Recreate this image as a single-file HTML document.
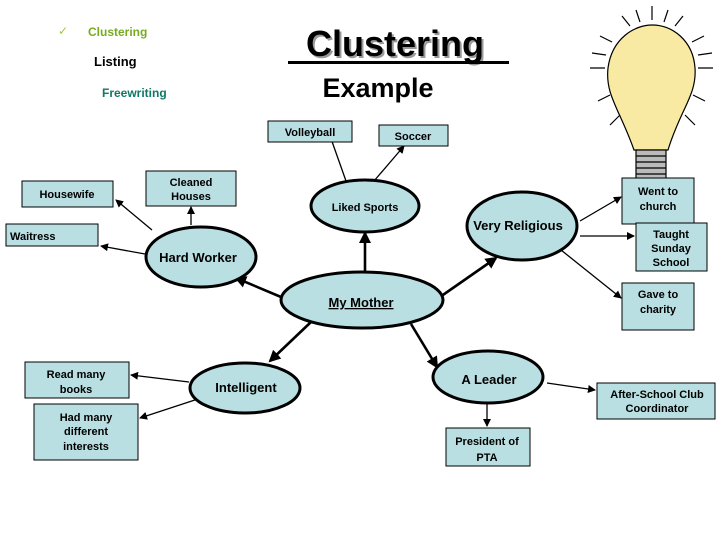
<!DOCTYPE html>
<html><head><style>
body{margin:0;background:#fff;width:728px;height:546px;overflow:hidden;font-family:"Liberation Sans",sans-serif}
</style></head><body>
<svg width="728" height="546" viewBox="0 0 728 546" xmlns="http://www.w3.org/2000/svg" font-family="Liberation Sans, sans-serif" font-weight="bold">
<defs>
<marker id="a" markerWidth="8" markerHeight="8" refX="7" refY="4" orient="auto" markerUnits="userSpaceOnUse"><path d="M0,0 L8,4 L0,8 z" fill="#000"/></marker>
<marker id="b" markerWidth="12" markerHeight="12" refX="10" refY="6" orient="auto" markerUnits="userSpaceOnUse"><path d="M0,0 L12,6 L0,12 z" fill="#000"/></marker>
</defs>
<text x="58" y="35" font-size="12" fill="#9c3" font-weight="normal">✓</text>
<text x="88" y="36" font-size="12" fill="#7a2">Clustering</text>
<text x="94" y="66" font-size="13" fill="#000">Listing</text>
<text x="102" y="97" font-size="12" fill="#176">Freewriting</text>
<text x="397" y="58" font-size="36" fill="#999" text-anchor="middle">Clustering</text>
<text x="395" y="56" font-size="36" fill="#000" text-anchor="middle">Clustering</text>
<rect x="288" y="61" width="221" height="3" fill="#000"/>
<text x="378" y="97" font-size="27" fill="#000" text-anchor="middle">Example</text>
<g stroke="#000" stroke-width="1.2">
<path d="M634,150 C620,110 605,95 608,68 C612,38 635,25 652,25 C672,25 693,40 695,68 C697,95 680,110 668,150 Z" fill="#f8eaa3"/>
<rect x="636" y="150" width="30" height="30" fill="#bbb"/>
<path d="M636,156h30M636,162h30M636,168h30M636,174h30" />
<path d="M645,180 h12 l-3,6 h-6z" fill="#555"/>
<path d="M652,20v-14M630,26l-8,-10M675,26l8,-10M612,42l-12,-6M692,42l12,-6M605,68h-15M698,68h15M610,95l-12,6M693,95l12,6M620,115l-10,10M685,115l10,10M640,22l-4,-12M664,22l4,-12M606,55l-14,-2M698,55l14,-2" fill="none"/>
</g>
<g stroke="#000" stroke-width="1.3" fill="none" marker-end="url(#a)">
<line x1="346" y1="181" x2="329" y2="133"/>
<line x1="374" y1="181" x2="404" y2="146"/>
<line x1="191" y1="225" x2="191" y2="207"/>
<line x1="152" y1="230" x2="116" y2="200"/>
<line x1="145" y1="254" x2="101" y2="246"/>
<line x1="580" y1="221" x2="621" y2="197"/>
<line x1="580" y1="236" x2="634" y2="236"/>
<line x1="561" y1="250" x2="621" y2="298"/>
<line x1="189" y1="382" x2="131" y2="375"/>
<line x1="204" y1="397" x2="140" y2="418"/>
<line x1="487" y1="403" x2="487" y2="426"/>
<line x1="547" y1="383" x2="595" y2="390"/>
</g>
<g stroke="#000" stroke-width="2.6" fill="none" marker-end="url(#b)">
<line x1="365" y1="272" x2="365" y2="233"/>
<line x1="281" y1="297" x2="236" y2="278"/>
<line x1="440" y1="297" x2="496" y2="258"/>
<line x1="311" y1="322" x2="270" y2="361"/>
<line x1="411" y1="324" x2="437" y2="367"/>
</g>
<g fill="#b9dfe2" stroke="#000" stroke-width="3">
<ellipse cx="365" cy="206" rx="54" ry="26"/>
<ellipse cx="201" cy="257" rx="55" ry="30"/>
<ellipse cx="522" cy="226" rx="55" ry="34"/>
<ellipse cx="362" cy="300" rx="81" ry="28"/>
<ellipse cx="245" cy="388" rx="55" ry="25"/>
<ellipse cx="488" cy="377" rx="55" ry="26"/>
</g>
<g fill="#b9dfe2" stroke="#000" stroke-width="1">
<rect x="268" y="121" width="84" height="21"/>
<rect x="379" y="125" width="69" height="21"/>
<rect x="146" y="171" width="90" height="35"/>
<rect x="22" y="181" width="91" height="26"/>
<rect x="6" y="224" width="92" height="22"/>
<rect x="622" y="178" width="72" height="46"/>
<rect x="636" y="223" width="71" height="48"/>
<rect x="622" y="283" width="72" height="47"/>
<rect x="25" y="362" width="104" height="36"/>
<rect x="34" y="404" width="104" height="56"/>
<rect x="446" y="428" width="84" height="38"/>
<rect x="597" y="383" width="118" height="36"/>
</g>
<g font-size="11" text-anchor="middle" fill="#000">
<text x="310" y="136">Volleyball</text>
<text x="413" y="140">Soccer</text>
<text x="191" y="186">Cleaned</text><text x="191" y="200">Houses</text>
<text x="67" y="198">Housewife</text>
<text x="10" y="240" text-anchor="start">Waitress</text>
<text x="658" y="195">Went to</text><text x="658" y="210">church</text>
<text x="671" y="238">Taught</text><text x="671" y="252">Sunday</text><text x="671" y="266">School</text>
<text x="658" y="298">Gave to</text><text x="658" y="313">charity</text>
<text x="76" y="378">Read many</text><text x="76" y="393">books</text>
<text x="86" y="421">Had many</text><text x="86" y="435">different</text><text x="86" y="450">interests</text>
<text x="487" y="445">President of</text><text x="487" y="461">PTA</text>
<text x="657" y="398">After-School Club</text><text x="657" y="412">Coordinator</text>
<text x="365" y="211">Liked Sports</text>
</g>
<g font-size="13" text-anchor="middle" fill="#000">
<text x="198" y="262">Hard Worker</text>
<text x="518" y="230">Very Religious</text>
<text x="361" y="307" text-decoration="underline">My Mother</text>
<text x="246" y="392">Intelligent</text>
<text x="489" y="384">A Leader</text>
</g>
</svg>
</body></html>
